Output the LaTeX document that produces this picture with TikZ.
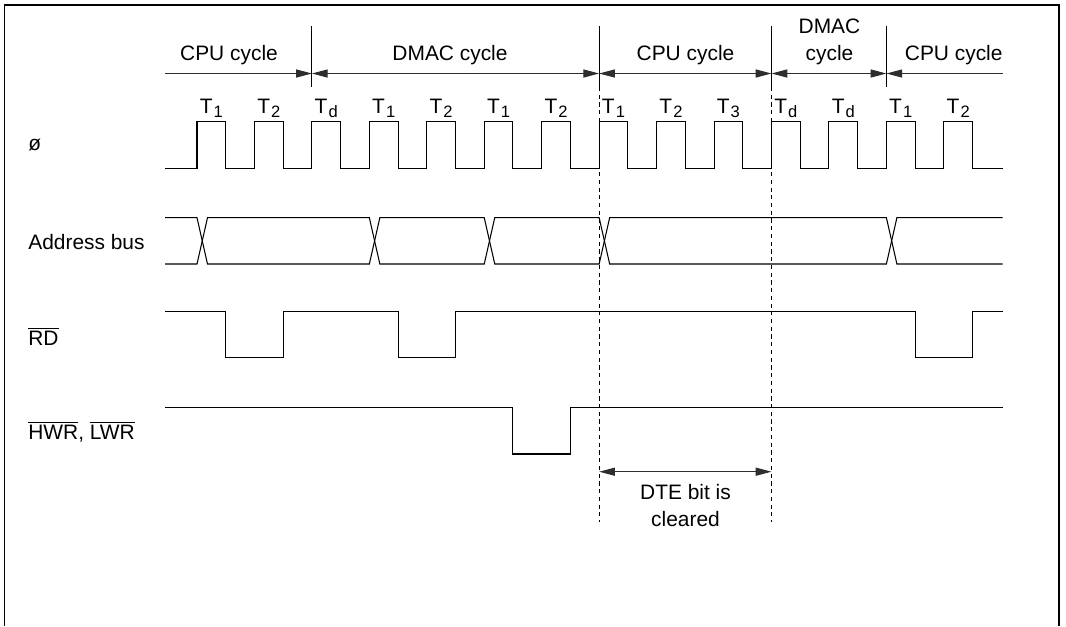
\documentclass[tikz,border=0pt]{standalone}
\usepackage{fontspec}
\setmainfont{Liberation Sans}
\usepackage{tikz}
\usetikzlibrary{arrows.meta}
\definecolor{sigink}{HTML}{000000}
\definecolor{arrink}{HTML}{2E2E2E}
\newcommand{\barsig}[1]{$\overline{\mbox{#1}}$}
\newcommand{\tsub}[1]{T\hspace{0.6pt}\raisebox{-2.1pt}{\fontsize{9.4}{10}\selectfont #1}}
\tikzset{
  frm/.style={draw=sigink, line width=0.8pt},
  sigline/.style={draw=sigink, line width=0.6pt},
  cycsep/.style={draw=sigink, line width=0.6pt},
  dsep/.style={draw=sigink, line width=0.6pt, dash pattern=on 2.4pt off 2.0pt},
  cycarr/.style={{Triangle[length=9pt,width=4.6pt]}-{Triangle[length=9pt,width=4.6pt]}, draw=arrink, line width=0.6pt},
  cycarrr/.style={-{Triangle[length=9pt,width=4.6pt]}, draw=arrink, line width=0.6pt},
  cycarrl/.style={{Triangle[length=9pt,width=4.6pt]}-, draw=arrink, line width=0.6pt},
  cyc/.style={font=\fontsize{11.9}{14}\selectfont, anchor=base, inner sep=0pt},
  tlbl/.style={font=\fontsize{11.9}{14}\selectfont, anchor=base, inner sep=0pt},
  sname/.style={font=\fontsize{11.9}{14}\selectfont, anchor=base west, inner sep=0pt},
  dtetxt/.style={font=\fontsize{11.9}{14}\selectfont, anchor=base, inner sep=0pt},
}
\begin{document}
\begin{tikzpicture}[x=1cm,y=1cm]
  \useasboundingbox (0,0) rectangle (21.320,-12.520);
  % frame, cut off at the bottom
  \draw[frm] (0.090,-12.520) |- (21.180,-0.100) -- (21.180,-12.520);
  % cycle boundaries
  \coordinate (cpuA) at (3.300,-1.470);
  \coordinate (sepA) at (6.238,-1.470);
  \coordinate (sepB) at (11.983,-1.470);
  \coordinate (sepC) at (15.430,-1.470);
  \coordinate (sepD) at (17.728,-1.470);
  \coordinate (cpuE) at (20.050,-1.470);
  \coordinate (sepAtop) at (6.238,-0.520);
  \coordinate (sepAbot) at (6.238,-1.740);
  \coordinate (sepBtop) at (11.983,-0.520);
  \coordinate (sepBbot) at (11.983,-1.740);
  \coordinate (sepBend) at (11.983,-10.434);
  \coordinate (sepCtop) at (15.430,-0.520);
  \coordinate (sepCbot) at (15.430,-1.740);
  \coordinate (sepCend) at (15.430,-10.434);
  \coordinate (sepDtop) at (17.728,-0.520);
  \coordinate (sepDbot) at (17.728,-1.740);
  \draw[cycsep] (sepAtop) -- (sepAbot);
  \draw[cycsep] (sepBtop) -- (sepBbot);
  \draw[cycsep] (sepCtop) -- (sepCbot);
  \draw[cycsep] (sepDtop) -- (sepDbot);
  \draw[dsep] (sepBbot) -- (sepBend);
  \draw[dsep] (sepCbot) -- (sepCend);
  \draw[cycarrr] (cpuA) -- (sepA);
  \draw[cycarr] (sepA) -- (sepB);
  \draw[cycarr] (sepB) -- (sepC);
  \draw[cycarr] (sepC) -- (sepD);
  \draw[cycarrl] (sepD) -- (cpuE);
  \node[cyc] (cycA) at (4.580,-1.200) {CPU cycle};
  \node[cyc] (cycB) at (9.000,-1.200) {DMAC cycle};
  \node[cyc] (cycC) at (13.710,-1.200) {CPU cycle};
  \node[cyc] (cycDa) at (16.590,-0.666) {DMAC};
  \node[cyc] (cycDb) at (16.590,-1.200) {cycle};
  \node[cyc] (cycE) at (19.074,-1.200) {CPU cycle};
  % state labels
  \node[tlbl] (tA) at (4.227,-2.270) {\tsub{1}};
  \node[tlbl] (tB) at (5.376,-2.270) {\tsub{2}};
  \node[tlbl] (tC) at (6.525,-2.270) {\tsub{d}};
  \node[tlbl] (tD) at (7.674,-2.270) {\tsub{1}};
  \node[tlbl] (tE) at (8.823,-2.270) {\tsub{2}};
  \node[tlbl] (tF) at (9.972,-2.270) {\tsub{1}};
  \node[tlbl] (tG) at (11.121,-2.270) {\tsub{2}};
  \node[tlbl] (tH) at (12.270,-2.270) {\tsub{1}};
  \node[tlbl] (tI) at (13.419,-2.270) {\tsub{2}};
  \node[tlbl] (tJ) at (14.568,-2.270) {\tsub{3}};
  \node[tlbl] (tK) at (15.717,-2.270) {\tsub{d}};
  \node[tlbl] (tL) at (16.866,-2.270) {\tsub{d}};
  \node[tlbl] (tM) at (18.015,-2.270) {\tsub{1}};
  \node[tlbl] (tN) at (19.164,-2.270) {\tsub{2}};
  % signal names
  \node[sname] (phi) at (0.560,-3.000) {ø};
  \node[sname] (abus) at (0.560,-4.980) {Address bus};
  \node[sname] (rd) at (0.560,-6.900) {\barsig{RD}};
  \node[sname] (wr) at (0.560,-8.786) {\barsig{HWR}, \barsig{LWR}};
  % clock
  \draw[sigline] (3.300,-3.366) -| (3.940,-2.434) -| (4.514,-3.366) -| (5.089,-2.434) -| (5.663,-3.366)
    -| (6.238,-2.434) -| (6.812,-3.366) -| (7.387,-2.434) -| (7.961,-3.366) -| (8.536,-2.434) -| (9.110,-3.366)
    -| (9.685,-2.434) -| (10.259,-3.366) -| (10.834,-2.434) -| (11.408,-3.366) -| (11.983,-2.434) -| (12.557,-3.366)
    -| (13.132,-2.434) -| (13.706,-3.366) -| (14.281,-2.434) -| (14.855,-3.366) -| (15.430,-2.434) -| (16.004,-3.366)
    -| (16.579,-2.434) -| (17.153,-3.366) -| (17.728,-2.434) -| (18.302,-3.366) -| (18.877,-2.434) -| (19.451,-3.366)
    -- (20.050,-3.366);
  % address bus
  \draw[sigline] (3.300,-4.354) -- (3.940,-4.354) -- (4.150,-5.280) -- (7.387,-5.280) -- (7.597,-4.354)
    -- (9.685,-4.354) -- (9.895,-5.280) -- (11.983,-5.280) -- (12.193,-4.354) -- (17.728,-4.354)
    -- (17.938,-5.280) -- (20.050,-5.280);
  \draw[sigline] (3.300,-5.280) -- (3.940,-5.280) -- (4.150,-4.354) -- (7.387,-4.354) -- (7.597,-5.280)
    -- (9.685,-5.280) -- (9.895,-4.354) -- (11.983,-4.354) -- (12.193,-5.280) -- (17.728,-5.280)
    -- (17.938,-4.354) -- (20.050,-4.354);
  % read strobe
  \draw[sigline] (3.300,-6.234) -| (4.514,-7.154) -| (5.663,-6.234) -| (7.961,-7.154) -| (9.110,-6.234)
    -| (18.302,-7.154) -| (19.451,-6.234) -- (20.050,-6.234);
  % write strobes
  \draw[sigline] (3.300,-8.144) -| (10.259,-9.080) -| (11.408,-8.144) -- (20.050,-8.144);
  % DTE clear
  \coordinate (dteA) at (11.983,-9.434);
  \coordinate (dteB) at (15.430,-9.434);
  \draw[cycarr] (dteA) -- (dteB);
  \node[dtetxt] (dteT) at (13.710,-9.986) {DTE bit is};
  \node[dtetxt] (dteU) at (13.710,-10.520) {cleared};
\end{tikzpicture}
\end{document}
